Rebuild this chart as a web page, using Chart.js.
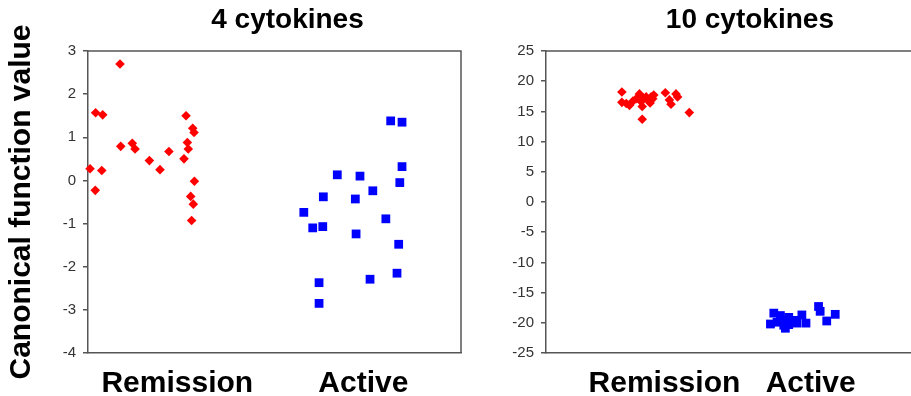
<!DOCTYPE html>
<html>
<head>
<meta charset="utf-8">
<script src="https://cdn.jsdelivr.net/npm/chart.js@4/dist/chart.umd.min.js"></script>
<style>
html, body { margin:0; padding:0; background:#fff; overflow:hidden; }
#wrap { position:relative; width:911px; height:396px; overflow:hidden; }
#leftBox { position:absolute; left:0; top:0; width:470px; height:396px; }
#rightBox { position:absolute; left:470px; top:0; width:490px; height:396px; }
</style>
</head>
<body>
<div id="wrap">
  <div id="leftBox"><canvas id="chart4" width="470" height="396"></canvas></div>
  <div id="rightBox"><canvas id="chart10" width="490" height="396"></canvas></div>
</div>
<script>
const groups = ['Remission', 'Active'];

// 4 cytokines: jittered group position (1 = Remission, 2 = Active) and canonical value
const remission4X = [0.531, 0.561, 0.559, 0.599, 0.594, 0.692, 0.696, 0.758, 0.773, 0.850, 0.907, 0.955, 1.036, 1.047, 1.054, 1.059, 1.083, 1.090, 1.092, 1.072, 1.086, 1.077];
const remission4Y = [0.27, 1.57, -0.23, 1.52, 0.23, 2.70, 0.79, 0.86, 0.73, 0.46, 0.25, 0.67, 0.50, 1.50, 0.88, 0.73, 1.21, 1.11, -0.02, -0.37, -0.55, -0.93];
const active4X = [2.147, 2.208, 2.208, 2.196, 1.860, 1.982, 2.051, 1.785, 1.957, 1.680, 1.728, 1.782, 1.961, 2.121, 2.190, 2.181, 2.036, 1.762, 1.762];
const active4Y = [1.38, 1.35, 0.32, -0.05, 0.13, 0.10, -0.24, -0.38, -0.43, -0.74, -1.10, -1.07, -1.24, -0.89, -1.48, -2.15, -2.29, -2.37, -2.85];

// 10 cytokines
const remission10X = [0.709, 0.709, 0.761, 0.784, 0.807, 0.829, 0.841, 0.852, 0.848, 0.848, 0.875, 0.886, 0.902, 0.920, 0.927, 1.006, 1.034, 1.045, 1.079, 1.090, 1.170, 0.739, 0.909];
const remission10Y = [18.2, 16.5, 16.0, 16.7, 17.1, 17.9, 16.6, 17.3, 15.8, 13.7, 17.4, 16.9, 16.4, 17.1, 17.7, 18.1, 16.9, 16.2, 17.9, 17.4, 14.8, 16.3, 17.4];
const active10X = [1.725, 1.748, 1.770, 1.793, 1.804, 1.816, 1.827, 1.850, 1.868, 1.895, 1.906, 1.940, 1.968, 2.054, 2.065, 2.110, 2.168, 1.850];
const active10Y = [-20.2, -18.4, -19.9, -18.8, -19.6, -20.4, -20.9, -19.1, -19.9, -19.6, -20.05, -18.7, -20.05, -17.3, -18.1, -19.7, -18.6, -20.3];

const family = '"Liberation Sans", Arial, Helvetica, sans-serif';
const axisColor = '#555';

function toPoints(xs, ys) {
    return xs.map((x, i) => ({ x, y: ys[i] }));
}

// top border (and right border on the left panel) + panel title
const framePlugin = {
    id: 'frame',
    afterDraw(chart, args, opts) {
        const { ctx, chartArea: a } = chart;
        ctx.save();
        ctx.strokeStyle = axisColor;
        ctx.lineWidth = 1.5;
        ctx.beginPath();
        ctx.moveTo(a.left, a.top);
        ctx.lineTo(a.right, a.top);
        if (opts.right) ctx.lineTo(a.right, a.bottom);
        ctx.stroke();
        ctx.font = 'bold 28px ' + family;
        ctx.fillStyle = '#000';
        ctx.textAlign = 'center';
        ctx.textBaseline = 'alphabetic';
        ctx.fillText(opts.title, (a.left + a.right) / 2 + opts.dx, 28);
        ctx.restore();
    }
};

function makePanel(id, cfg) {
    return new Chart(document.getElementById(id), {
        type: 'scatter',
        data: {
            datasets: [
                { label: 'Remission', data: cfg.remission, pointStyle: 'rectRot', pointRadius: 4.8,
                  backgroundColor: '#ff0000', borderColor: '#ff0000', borderWidth: 0, clip: false },
                { label: 'Active', data: cfg.active, pointStyle: 'rect', pointRadius: 6.2,
                  backgroundColor: '#0000ff', borderColor: '#0000ff', borderWidth: 0, clip: false }
            ]
        },
        options: {
            responsive: false,
            animation: false,
            layout: { padding: { top: 51, right: cfg.padRight, left: 0, bottom: 0 } },
            plugins: {
                legend: { display: false },
                tooltip: { enabled: false },
                frame: { title: cfg.title, dx: cfg.titleDx, right: cfg.rightBorder }
            },
            scales: {
                x: {
                    type: 'linear', min: cfg.xMin, max: cfg.xMax,
                    afterBuildTicks: s => { s.ticks = [{ value: 1 }, { value: 2 }]; },
                    afterFit: s => { s.height = 43; },
                    grid: { display: false },
                    border: { color: axisColor, width: 1.5 },
                    ticks: { callback: v => groups[v - 1], font: { size: 30, weight: 'bold', family },
                             color: '#000', padding: 5, maxRotation: 0, autoSkip: false }
                },
                y: {
                    min: cfg.yMin, max: cfg.yMax,
                    afterFit: s => { s.width = cfg.yWidth; },
                    grid: { drawOnChartArea: false, color: axisColor, tickLength: 5, lineWidth: 1.5 },
                    border: { color: axisColor, width: 1.5 },
                    ticks: { stepSize: cfg.step, font: { size: 15, family }, color: '#333', padding: 7 },
                    title: { display: !!cfg.yTitle, text: cfg.yTitle || '', color: '#000',
                             font: { size: 30, weight: 'bold', family }, padding: { top: 4, bottom: 0 } }
                }
            }
        },
        plugins: [framePlugin]
    });
}

makePanel('chart4', {
    remission: toPoints(remission4X, remission4Y),
    active: toPoints(active4X, active4Y),
    xMin: 0.52, xMax: 2.525, yMin: -4, yMax: 3, step: 1,
    yWidth: 88, padRight: 9, title: '4 cytokines', titleDx: 13, rightBorder: true,
    yTitle: 'Canonical function value'
});

makePanel('chart10', {
    remission: toPoints(remission10X, remission10Y),
    active: toPoints(active10X, active10Y),
    xMin: 0.19, xMax: 2.979, yMin: -25, yMax: 25, step: 5,
    yWidth: 76, padRight: 4, title: '10 cytokines', titleDx: 0, rightBorder: false
});
</script>
</body>
</html>
